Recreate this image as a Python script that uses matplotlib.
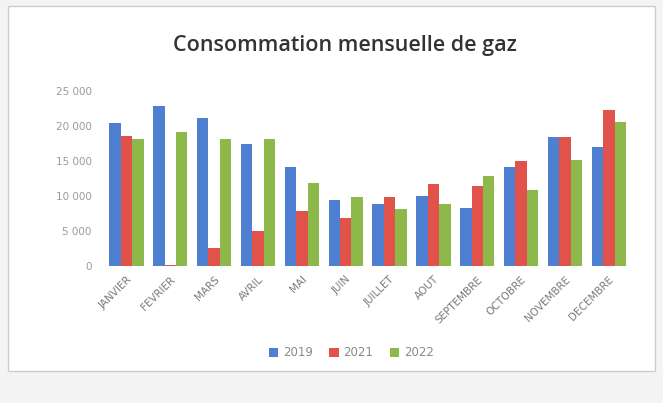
import numpy as np
import matplotlib.pyplot as plt
from matplotlib.patches import Rectangle

mois = ["JANVIER", "FEVRIER", "MARS", "AVRIL", "MAI", "JUIN",
        "JUILLET", "AOUT", "SEPTEMBRE", "OCTOBRE", "NOVEMBRE", "DECEMBRE"]
conso_2019 = [20500, 22800, 21100, 17400, 14200, 9400, 8800, 10000, 8300, 14200, 18400, 17000]
conso_2021 = [18600, 200, 2500, 5000, 7900, 6800, 9800, 11700, 11500, 15000, 18400, 22300]
conso_2022 = [18100, 19200, 18100, 18200, 11900, 9800, 8100, 8900, 12900, 10800, 15100, 20600]
annees = ["2019", "2021", "2022"]
couleurs = ["#4F7FD0", "#E0524A", "#8DB84A"]

fig = plt.figure(figsize=(6.63, 4.03), dpi=100)
fig.patch.set_facecolor("#F4F4F4")
# cadre du graphique
fig.add_artist(Rectangle((0.012, 0.08), 0.976, 0.905, transform=fig.transFigure,
                         facecolor="white", edgecolor="#C8CCD4", linewidth=1.0, zorder=0))

ax = fig.add_axes([0.151, 0.340, 0.807, 0.434])
ax.set_facecolor("none")
x = np.arange(len(mois))
w = 0.26
for i, (vals, lab, c) in enumerate(zip([conso_2019, conso_2021, conso_2022], annees, couleurs)):
    ax.bar(x + (i - 1) * w, vals, width=w, color=c, label=lab, zorder=2)

ax.set_xlim(-0.6, len(mois) - 0.4)
ax.set_ylim(0, 25000)
ax.set_yticks(range(0, 25001, 5000))
ax.set_yticklabels(["0", "5 000", "10 000", "15 000", "20 000", "25 000"],
                   fontsize=7.5, color="#9A9A9A")
ax.set_xticks(x)
ax.set_xticklabels(mois, rotation=45, ha="right", rotation_mode="anchor",
                   fontsize=7.5, color="#7A7A7A")
ax.tick_params(length=0, pad=6)
for s in ax.spines.values():
    s.set_visible(False)
ax.axhline(0, color="#E6E6E6", linewidth=0.8, zorder=1)

fig.text(0.52, 0.888, "Consommation mensuelle de gaz", ha="center", va="center",
         fontsize=15.5, color="#333333", family="Open Sans", fontweight="semibold")

fig.legend(loc="center", bbox_to_anchor=(0.53, 0.125), ncol=3, frameon=False,
           fontsize=8.5, handlelength=0.8, handleheight=0.8, columnspacing=1.4,
           handletextpad=0.4, labelcolor="#8A8A8A")

fig.savefig("out.png", dpi=100, facecolor=fig.get_facecolor())
